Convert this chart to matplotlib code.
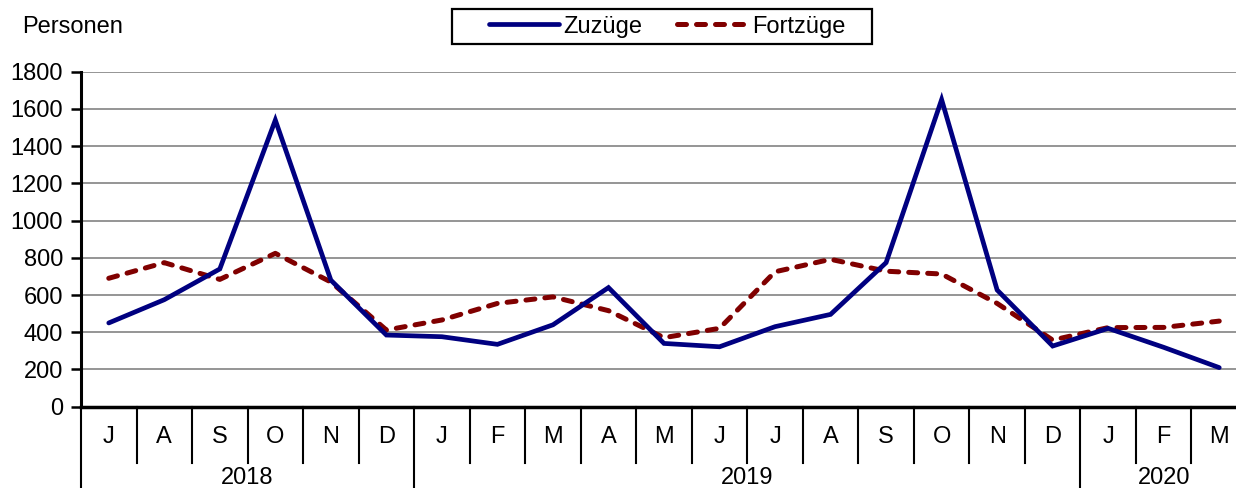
import matplotlib
matplotlib.use("Agg")
import matplotlib.pyplot as plt
from matplotlib.patches import Rectangle
import matplotlib.transforms as mtransforms

plt.rcParams['font.family'] = ['Liberation Sans', 'DejaVu Sans']

months = ["J", "A", "S", "O", "N", "D", "J", "F", "M", "A", "M", "J",
          "J", "A", "S", "O", "N", "D", "J", "F", "M"]
years = ["2018", "2019", "2020"]
year_counts = [6, 12, 3]
zuzuege = [450, 575, 740, 1540, 680, 385, 376, 335, 440, 640, 340, 322,
           430, 496, 774, 1650, 627, 326, 421, 319, 210]
fortzuege = [690, 774, 684, 824, 670, 412, 466, 555, 590, 516, 371, 421,
             725, 792, 728, 713, 555, 358, 425, 426, 460]
yticks = [0, 200, 400, 600, 800, 1000, 1200, 1400, 1600, 1800]

W, H = 1236, 488
fig = plt.figure(figsize=(W / 100, H / 100), dpi=100)
x0, x1 = 81, 1247
y0, y1 = 406.7, 71.7
ax = fig.add_axes([x0 / W, 1 - y0 / H, (x1 - x0) / W, (y0 - y1) / H])

n = len(months)
xs = list(range(n))
ax.set_xlim(-0.5, n - 0.5)
ax.set_ylim(0, 1800)
ax.set_yticks(yticks)
ax.yaxis.grid(True, color="#8c8c8c", linewidth=1.3)
ax.set_axisbelow(True)
ax.set_xticks([])
for s in ["top", "right"]:
    ax.spines[s].set_visible(False)
ax.spines["left"].set_linewidth(2.2)
ax.spines["bottom"].set_linewidth(2.5)
ax.tick_params(axis="y", length=7, width=1.8, labelsize=17, pad=6)

fz, = ax.plot(xs, fortzuege, color="#800000", linewidth=3.6,
              dashes=(1.8, 2.0), dash_capstyle="round", label="Fortzüge")
zz, = ax.plot(xs, zuzuege, color="#000080", linewidth=3.4,
              solid_capstyle="round", solid_joinstyle="miter", label="Zuzüge")

trans = mtransforms.blended_transform_factory(ax.transData, ax.transAxes)
short = 56 / (y0 - y1)
longy = (H - y0) / (y0 - y1) + 0.05
boundaries = set()
acc = 0
for c in year_counts:
    boundaries.add(acc)
    acc += c
boundaries.add(acc)
for i in range(n + 1):
    yb = -longy if i in boundaries else -short
    ax.plot([i - 0.5, i - 0.5], [0, yb], color="black", linewidth=1.5,
            transform=trans, clip_on=False)
for i, m in enumerate(months):
    ax.text(i, -0.09, m, transform=trans, ha="center", va="center", fontsize=17)
acc = 0
for yr, c in zip(years, year_counts):
    ax.text(acc + (c - 1) / 2, -0.213, yr, transform=trans, ha="center",
            va="center", fontsize=17)
    acc += c

fig.text(22 / W, 1 - 27 / H, "Personen", ha="left", va="center", fontsize=17)

fig.patches.append(Rectangle((452 / W, 1 - 44 / H), (872 - 452) / W, 35 / H,
                             transform=fig.transFigure, fill=False,
                             edgecolor="black", linewidth=1.6))
fig.legend(handles=[zz, fz], loc="center", bbox_to_anchor=(667 / W, 1 - 26.5 / H),
           ncol=2, frameon=False, fontsize=17, handlelength=2.95,
           handletextpad=0.2, columnspacing=1.48, borderpad=0)

fig.savefig("out.png", dpi=100)
